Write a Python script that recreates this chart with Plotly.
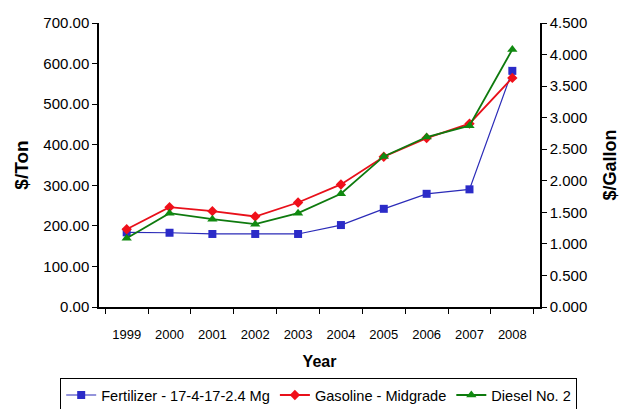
import plotly.graph_objects as go

years = ["1999", "2000", "2001", "2002", "2003", "2004", "2005", "2006", "2007", "2008"]
fertilizer = [184, 183, 180, 180, 180, 202, 242, 279, 290, 582]
gasoline = [1.233, 1.582, 1.519, 1.434, 1.656, 1.942, 2.381, 2.677, 2.905, 3.63]
diesel = [1.09, 1.487, 1.392, 1.312, 1.487, 1.794, 2.386, 2.693, 2.873, 4.08]

left_ticks = [0, 100, 200, 300, 400, 500, 600, 700]
right_ticks = [0, 0.5, 1.0, 1.5, 2.0, 2.5, 3.0, 3.5, 4.0, 4.5]

FONT = "Liberation Sans, Arial, sans-serif"

fig = go.Figure()
fig.add_trace(go.Scatter(x=years, y=fertilizer, name="Fertilizer - 17-4-17-2.4 Mg",
                         mode="lines+markers", yaxis="y",
                         line=dict(color="#2B2BB8", width=1.2),
                         marker=dict(symbol="square", size=8, color="#2B2BC8")))
fig.add_trace(go.Scatter(x=years, y=gasoline, name="Gasoline - Midgrade",
                         mode="lines+markers", yaxis="y2",
                         line=dict(color="#E8101A", width=1.8),
                         marker=dict(symbol="diamond", size=8, color="#F0101A")))
fig.add_trace(go.Scatter(x=years, y=diesel, name="Diesel No. 2",
                         mode="lines+markers", yaxis="y2",
                         line=dict(color="#0E7A0E", width=1.8),
                         marker=dict(symbol="triangle-up", size=9, color="#108A10")))

fig.update_layout(
    width=628, height=409, autosize=False,
    margin=dict(l=99, r=88, t=23, b=102, autoexpand=False),
    paper_bgcolor="white", plot_bgcolor="white",
    font=dict(family=FONT, color="black"),
    showlegend=True,
    legend=dict(orientation="h", x=-0.088, xanchor="left",
                y=-0.25, yanchor="top",
                bordercolor="black", borderwidth=1, font=dict(size=14.6, family=FONT),
                itemwidth=30, tracegroupgap=0),
    xaxis=dict(type="category", tickson="boundaries", ticks="outside", ticklen=5,
               tickcolor="black", showline=True, linecolor="black", linewidth=1.5,
               showgrid=False, tickfont=dict(size=13), automargin=False,
               ticklabelstandoff=15,
               title=dict(text="<b>Year</b>", font=dict(size=16), standoff=14)),
    yaxis=dict(range=[0, 700], tickvals=left_ticks, tickformat=".2f", ticks="outside",
               ticklen=5, tickcolor="black", showline=True, linecolor="black", linewidth=1.5,
               showgrid=False, zeroline=False, tickfont=dict(size=15), automargin=False,
               title=dict(text="<b>$/Ton</b>", font=dict(size=19), standoff=10)),
    yaxis2=dict(range=[0, 4.5], tickvals=right_ticks, tickformat=".3f", ticks="outside",
                ticklen=5, tickcolor="black", showline=True, linecolor="black", linewidth=1.5,
                showgrid=False, zeroline=False, side="right", overlaying="y",
                tickfont=dict(size=15), automargin=False,
                title=dict(text="<b>$/Gallon</b>", font=dict(size=18), standoff=17)),
    yaxis3=dict(range=[0, 700], tickvals=left_ticks, ticks="inside", ticklen=4,
                tickcolor="black", showticklabels=False, showline=False, showgrid=False,
                zeroline=False, overlaying="y", side="left", automargin=False),
    yaxis4=dict(range=[0, 4.5], tickvals=right_ticks, ticks="inside", ticklen=4,
                tickcolor="black", showticklabels=False, showline=False, showgrid=False,
                zeroline=False, overlaying="y", side="right", automargin=False),
    xaxis2=dict(range=[-0.5, 9.5], tickvals=[0.5, 1.5, 2.5, 3.5, 4.5, 5.5, 6.5, 7.5, 8.5],
                ticks="inside", ticklen=4, tickcolor="black", showticklabels=False,
                showline=False, showgrid=False, zeroline=False, overlaying="x", side="bottom",
                automargin=False),
)

fig.write_html("out.html", config={"displayModeBar": False},
               post_script="document.body.style.margin='0';")
